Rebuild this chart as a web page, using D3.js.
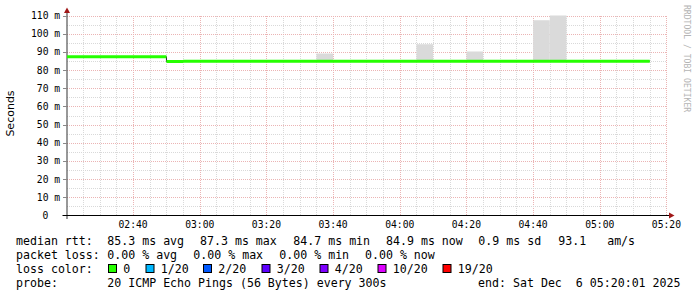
<!DOCTYPE html>
<html>
<head>
<meta charset="utf-8">
<script src="https://cdn.jsdelivr.net/npm/d3@7"></script>
<style>
body { margin: 0; background: #fff; }
svg { display: block; }
text { font-family: "DejaVu Sans Mono", monospace; fill: #000; }
</style>
</head>
<body>
<div class="chart"></div>
<script>
// 5 minute buckets (start time) and the median rtt in ms
const bucketStarts = [
    '02:20', '02:25', '02:30', '02:35', '02:40', '02:45', '02:50', '02:55',
    '03:00', '03:05', '03:10', '03:15', '03:20', '03:25', '03:30', '03:35',
    '03:40', '03:45', '03:50', '03:55', '04:00', '04:05', '04:10', '04:15',
    '04:20', '04:25', '04:30', '04:35', '04:40', '04:45', '04:50', '04:55',
    '05:00', '05:05', '05:10'
];
const medianRtt = [
    87.3, 87.3, 87.3, 87.3, 87.3, 87.3, 84.7, 84.9,
    84.9, 84.9, 84.9, 84.9, 84.9, 84.9, 84.9, 84.9,
    84.9, 84.9, 84.9, 84.9, 84.9, 84.9, 84.9, 84.9,
    84.9, 84.9, 84.9, 84.9, 84.9, 84.9, 84.9, 84.9,
    84.9, 84.9, 84.9
];

// buckets where the smoke (ping spread) rises above the median
const smokeStarts = ['03:35', '04:05', '04:20', '04:40', '04:45'];
const smokeTop = [89.1, 94.2, 90.2, 107.4, 110];

const yTicks = [0, 10, 20, 30, 40, 50, 60, 70, 80, 90, 100, 110];
const xTickLabels = ['02:40', '03:00', '03:20', '03:40', '04:00', '04:20', '04:40', '05:00', '05:20'];

const rttStats = ['85.3 ms avg', '87.3 ms max', '84.7 ms min', '84.9 ms now', '0.9 ms sd', '93.1   am/s'];
const lossStats = ['0.00 % avg', '0.00 % max', '0.00 % min', '0.00 % now'];
const lossLabels = ['0', '1/20', '2/20', '3/20', '4/20', '10/20', '19/20'];
const lossColors = ['#26ff00', '#00b8ff', '#0059ff', '#5e00ff', '#7e00ff', '#dd00ff', '#ff0000'];
const probeText = '20 ICMP Echo Pings (56 Bytes) every 300s';
const endText = 'end: Sat Dec  6 05:20:01 2025';

const settings = {
    width: 697,
    height: 297,
    left: 66.5,
    right: 666.5,
    top: 15.5,
    bottom: 215.5,
    legendFont: 11.6,
    axisFont: 9.7
};

const parse = d3.timeParse('%Y-%m-%d %H:%M:%S');
const day = t => parse('2025-12-06 ' + t + (t.length === 5 ? ':00' : ''));
const addMin = (d, m) => new Date(d.getTime() + m * 60000);

const x = d3.scaleTime()
    .domain([day('02:20:01'), day('05:20:01')])
    .range([settings.left, settings.right]);

const y = d3.scaleLinear()
    .domain([0, 110])
    .range([settings.bottom, settings.top]);

const svg = d3.select('.chart')
    .append('svg')
    .attr('width', settings.width)
    .attr('height', settings.height);

svg.append('defs').append('clipPath')
    .attr('id', 'plot')
    .append('rect')
    .attr('x', 67)
    .attr('y', 0)
    .attr('width', settings.right - 67)
    .attr('height', settings.bottom);

// grid
const grid = svg.append('g').attr('shape-rendering', 'crispEdges');
const minorX = d3.timeMinute.every(5).range(day('02:25'), addMin(day('05:20'), 1));
const minorY = d3.range(5, 111, 5);

grid.selectAll('.vx')
    .data(minorX)
    .enter()
    .append('line')
    .attr('x1', d => Math.round(x(d)) + 0.5)
    .attr('x2', d => Math.round(x(d)) + 0.5)
    .attr('y1', settings.top)
    .attr('y2', settings.bottom)
    .attr('stroke', d => d.getMinutes() % 20 === 0 ? '#ebb4b4' : '#d9d9d9')
    .attr('stroke-dasharray', '1,1');

grid.selectAll('.hy')
    .data(minorY)
    .enter()
    .append('line')
    .attr('x1', 67)
    .attr('x2', settings.right)
    .attr('y1', d => Math.round(y(d)) + 0.5)
    .attr('y2', d => Math.round(y(d)) + 0.5)
    .attr('stroke', d => d % 10 === 0 ? '#ebb4b4' : '#d9d9d9')
    .attr('stroke-dasharray', '1,1');

// smoke
svg.append('g')
    .attr('clip-path', 'url(#plot)')
    .selectAll('rect')
    .data(smokeStarts)
    .enter()
    .append('rect')
    .attr('x', d => x(day(d)))
    .attr('width', d => x(addMin(day(d), 5)) - x(day(d)))
    .attr('y', (d, i) => y(smokeTop[i]))
    .attr('height', (d, i) => y(84.9) - y(smokeTop[i]))
    .attr('fill', '#dadada');

// axes
svg.append('line')
    .attr('x1', 67).attr('x2', 67)
    .attr('y1', 12).attr('y2', 219)
    .attr('stroke', '#444')
    .attr('stroke-width', 1.1);

svg.append('line')
    .attr('x1', 62.5).attr('x2', 670)
    .attr('y1', settings.bottom).attr('y2', settings.bottom)
    .attr('stroke', '#000');

svg.selectAll('.ytick')
    .data(yTicks.slice(1))
    .enter()
    .append('line')
    .attr('x1', 63).attr('x2', 67)
    .attr('y1', d => Math.round(y(d)) + 0.5)
    .attr('y2', d => Math.round(y(d)) + 0.5)
    .attr('stroke', '#888');

svg.append('path')
    .attr('d', 'M64,13 L70,13 L67,7.5 Z')
    .attr('fill', '#a01818');
svg.append('path')
    .attr('d', 'M669,212.5 L669,218.5 L674.5,215.5 Z')
    .attr('fill', '#a01818');

// axis labels
svg.selectAll('.ylab')
    .data(yTicks)
    .enter()
    .append('text')
    .attr('x', d => d === 0 ? 48.4 : 60.2)
    .attr('y', d => y(d))
    .attr('dy', '0.36em')
    .attr('text-anchor', 'end')
    .style('font-size', settings.axisFont + 'px')
    .text(d => d === 0 ? '0' : d + ' m');

svg.selectAll('.xlab')
    .data(xTickLabels)
    .enter()
    .append('text')
    .attr('x', d => x(day(d)))
    .attr('y', 228)
    .attr('text-anchor', 'middle')
    .style('font-size', settings.axisFont + 'px')
    .text(d => d);

svg.append('text')
    .attr('transform', 'translate(13.5,113.5) rotate(-90)')
    .attr('text-anchor', 'middle')
    .style('font-family', '"DejaVu Sans", sans-serif')
    .style('font-size', '11px')
    .text('Seconds');

svg.append('text')
    .attr('transform', 'translate(683.5,5) rotate(90)')
    .style('font-size', '8.1px')
    .style('fill', '#b4b4b4')
    .text('RRDTOOL / TOBI OETIKER');

// median line
const medianData = bucketStarts.map((t, i) => ({ t: day(t), v: medianRtt[i] }));
const plotLayer = svg.append('g').attr('clip-path', 'url(#plot)');

plotLayer.append('path')
    .datum(medianData.concat([{ t: addMin(medianData[medianData.length - 1].t, 5), v: medianRtt[medianRtt.length - 1] }]))
    .attr('d', d3.line().x(d => x(d.t)).y(d => y(d.v)).curve(d3.curveStepAfter))
    .attr('fill', 'none')
    .attr('stroke', '#202020')
    .attr('stroke-width', 1);

plotLayer.append('path')
    .attr('d', medianData.map(d => 'M' + x(d.t) + ',' + y(d.v) + 'H' + x(addMin(d.t, 5))).join(''))
    .attr('fill', 'none')
    .attr('stroke', lossColors[0])
    .attr('stroke-width', 3);

// legend
const fs = settings.legendFont + 'px';
const legendText = (tx, ty, s) => svg.append('text')
    .attr('x', tx).attr('y', ty)
    .attr('xml:space', 'preserve')
    .style('font-size', fs)
    .style('white-space', 'pre')
    .text(s);

const rttX = [107.3, 200, 293.3, 386, 478.3, 558.3];
legendText(16, 245, 'median rtt:');
rttStats.forEach((s, i) => legendText(rttX[i], 245, s));

const lossX = [107.3, 193.3, 279.3, 365];
legendText(16, 259, 'packet loss:');
lossStats.forEach((s, i) => legendText(lossX[i], 259, s));

const boxX = [108.5, 146, 203.5, 262, 320, 378, 443];
legendText(16, 272.7, 'loss color:');
lossLabels.forEach((s, i) => {
    svg.append('rect')
        .attr('x', boxX[i]).attr('y', 264.5)
        .attr('width', 8).attr('height', 8)
        .attr('fill', lossColors[i])
        .attr('stroke', '#000')
        .attr('stroke-width', 1);
    legendText(boxX[i] + 14.8, 272.7, s);
});

legendText(16, 286.7, 'probe:');
legendText(107.3, 286.7, probeText);
svg.append('text')
    .attr('x', 680.5).attr('y', 286.7)
    .attr('text-anchor', 'end')
    .style('font-size', fs)
    .style('white-space', 'pre')
    .text(endText);
</script>
</body>
</html>
